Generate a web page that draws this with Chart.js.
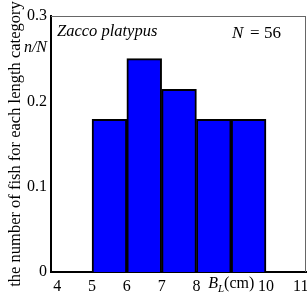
<!DOCTYPE html>
<html><head><meta charset="utf-8">
<script src="https://cdn.jsdelivr.net/npm/chart.js@4/dist/chart.umd.min.js"></script>
<style>html,body{margin:0;padding:0;background:#fff}#wrap{width:307px;height:300px}</style>
</head><body><div id="wrap"><canvas id="c" width="307" height="300"></canvas></div>
<script>
const binCenters = [5.5, 6.5, 7.5, 8.5, 9.5];
const proportions = [0.179, 0.25, 0.214, 0.179, 0.179];
const xTicks = [4, 5, 6, 7, 8, 9, 10, 11];
const yTicks = [0, 0.1, 0.2, 0.3];
const speciesName = 'Zacco platypus';
const sampleSize = 56;
const yTitle = 'the number of fish for each length category';

const SERIF = '"Liberation Serif", "DejaVu Serif", serif';

const overlay = {
  id: 'overlay',
  afterDraw(chart) {
    const ctx = chart.ctx, a = chart.chartArea;
    const xs = chart.scales.x;
    ctx.save();
    ctx.strokeStyle = '#666';
    ctx.lineWidth = 1;
    ctx.beginPath();
    ctx.moveTo(a.left, a.top + 0.5); ctx.lineTo(a.right, a.top + 0.5);
    ctx.moveTo(a.right - 0.5, a.top); ctx.lineTo(a.right - 0.5, a.bottom);
    ctx.stroke();
    ctx.fillStyle = '#000';
    ctx.textBaseline = 'middle';
    // species name
    ctx.font = 'italic 16.5px ' + SERIF;
    ctx.textAlign = 'left';
    ctx.fillText(speciesName, a.left + 6, a.top + 16);
    // N = 56
    const y = a.top + 18;
    ctx.font = 'italic 17px ' + SERIF;
    ctx.fillText('N', 232, y);
    ctx.font = '17px ' + SERIF;
    ctx.fillText('=', 250, y);
    ctx.fillText(String(sampleSize), 264, y);
    // n/N label on y axis
    ctx.font = 'italic 16px ' + SERIF;
    ctx.textAlign = 'right';
    ctx.fillText('n/N', a.left - 4, a.top + 32);
    // B_L (cm) label at x = 9
    const cx = xs.getPixelForValue(9);
    const ty = a.bottom + 12;
    ctx.font = 'italic 16px ' + SERIF;
    const wB = ctx.measureText('B').width;
    ctx.font = 'italic 11px ' + SERIF;
    const wL = ctx.measureText('L').width;
    ctx.font = '16px ' + SERIF;
    const wC = ctx.measureText('(cm)').width;
    let sx = cx - (wB + wL + wC) / 2;
    ctx.textAlign = 'left';
    ctx.font = 'italic 16px ' + SERIF;
    ctx.fillText('B', sx, ty);
    sx += wB;
    ctx.font = 'italic 11px ' + SERIF;
    ctx.fillText('L', sx, ty + 5);
    sx += wL;
    ctx.font = '16px ' + SERIF;
    ctx.fillText('(cm)', sx, ty);
    ctx.restore();
  }
};

new Chart(document.getElementById('c'), {
  type: 'bar',
  data: {
    datasets: [{
      data: binCenters.map((v, i) => ({ x: v, y: proportions[i] })),
      backgroundColor: '#0000ff',
      borderColor: '#000',
      borderWidth: 2,
      borderSkipped: 'bottom',
      barPercentage: 1,
      categoryPercentage: 1
    }]
  },
  options: {
    responsive: false,
    animation: false,
    layout: { padding: { top: 16, right: 1, left: 0, bottom: 0 } },
    plugins: { legend: { display: false }, tooltip: { enabled: false } },
    scales: {
      x: {
        type: 'linear',
        offset: false,
        min: 3.82, max: 11.15,
        afterBuildTicks: s => { s.ticks = xTicks.map(v => ({ value: v })); },
        afterFit: s => { s.height = 28; s.paddingLeft = 0; s.paddingRight = 0; },
        grid: { display: false, drawTicks: false, offset: false },
        border: { color: '#000', width: 2 },
        ticks: {
          color: '#000', padding: 5, maxRotation: 0, autoSkip: false,
          font: { family: SERIF, size: 16 },
          callback: v => (v === 9 ? '' : String(v))
        }
      },
      y: {
        min: 0, max: 0.3,
        afterBuildTicks: s => { s.ticks = yTicks.map(v => ({ value: v })); },
        afterFit: s => { s.width = 51; s.paddingTop = 0; s.paddingBottom = 0; },
        grid: { display: false, drawTicks: false },
        border: { color: '#000', width: 2 },
        ticks: {
          color: '#000', padding: 4, autoSkip: false,
          font: { family: SERIF, size: 16 },
          callback: v => (v === 0 ? '0' : v.toFixed(1))
        },
        title: {
          display: true, text: yTitle, color: '#000',
          font: { family: SERIF, size: 16.5 },
          padding: { top: 6, bottom: 0 }
        }
      }
    }
  },
  plugins: [overlay]
});
</script></body></html>
